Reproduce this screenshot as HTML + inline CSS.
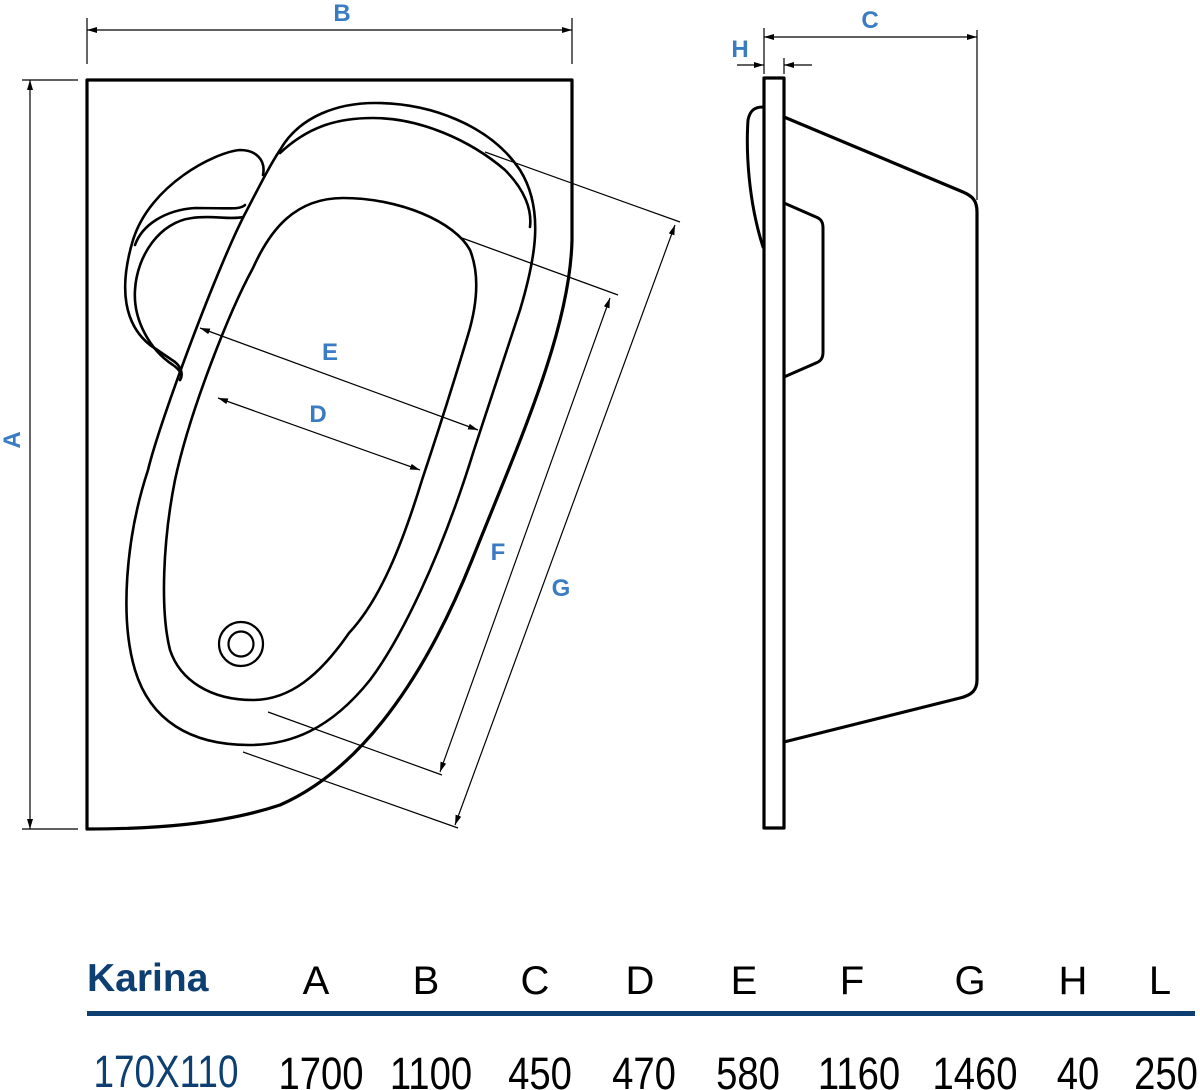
<!DOCTYPE html>
<html><head><meta charset="utf-8"><style>
html,body{margin:0;padding:0;background:#fff;width:1200px;height:1090px;overflow:hidden}
svg{position:absolute;left:0;top:0}
</style></head><body>
<svg width="1200" height="1090" viewBox="0 0 1200 1090" xmlns="http://www.w3.org/2000/svg">
<defs>
<marker id="ar" viewBox="0 0 10 6" refX="10" refY="3" markerWidth="10" markerHeight="6" orient="auto-start-reverse" markerUnits="userSpaceOnUse"><path d="M0,0 L10,3 L0,6 z" fill="#000"/></marker>
</defs>
<g fill="none" stroke="#000" stroke-linejoin="round" stroke-linecap="round">
<path stroke-width="3.2" d="M87,80 L572,80 L572,240 C570,330 520,440 472,560 C424,680 360,770 280,805 C220,825 150,829 87,829 Z"/>
<path stroke-width="2.6" d="M280,150 C300,115 340,103 375,103 C430,103 490,125 520,170 C545,210 535,260 520,310 L474,450 C440,560 400,640 370,680 C330,730 290,745 249,745 C190,745 150,720 135,670 C120,620 125,540 148,470 C160,420 220,260 247,210 C260,185 270,165 280,150 Z"/>
<path stroke-width="2.6" d="M280,153 C310,125 340,118 373,118 C420,118 470,140 505,170 C525,190 532,210 530,227"/>
<path stroke-width="2.6" d="M343,198 C400,198 455,222 470,250 C480,275 477,305 468,335 C450,395 432,450 422,480 C402,545 380,600 349,633 C320,675 290,700 253,700 C210,700 180,680 170,650 C160,610 163,540 175,480 C190,410 230,310 253,268 C270,230 295,198 343,198 Z"/>
<circle cx="241" cy="644" r="22" stroke-width="2.2"/>
<circle cx="241" cy="644" r="12.5" stroke-width="2.2"/>
<path stroke-width="2.6" d="M263,175 C266,160 256,150 240,150 C215,152 150,185 133,240 C118,290 125,325 150,345 L175,362 C182,368 183,375 180,380"/>
<path stroke-width="2.6" d="M245,205 C240,210 230,208 195,208 C165,210 142,225 135,245"/>
<path stroke-width="2.6" d="M243,217 C230,220 212,215 192,218 C160,222 137,255 135,290 C133,320 150,350 173,365 C180,370 183,375 180,380"/>
<rect x="764" y="78" width="20" height="750" stroke-width="3.2"/>
<path stroke-width="3.2" d="M784,117 L963,192 C972,196 977,200 977,212 L977,680 C977,690 972,695 960,698 L784,742"/>
<path stroke-width="3" d="M784,203 L816,217 C821,219 823,222 823,228 L823,352 C823,358 821,361 816,363 L784,377"/>
<path stroke-width="3" d="M763,107 C755,107 750,110 748,120 C746,150 748,200 763,247"/>
</g>
<g fill="none" stroke="#000" stroke-width="1.2">
<line x1="30" y1="80" x2="30" y2="829" marker-start="url(#ar)" marker-end="url(#ar)"/>
<line x1="22" y1="80" x2="78" y2="80"/><line x1="22" y1="829" x2="78" y2="829"/>
<line x1="87" y1="30" x2="572" y2="30" marker-start="url(#ar)" marker-end="url(#ar)"/>
<line x1="87" y1="18" x2="87" y2="64"/><line x1="572" y1="18" x2="572" y2="64"/>
<line x1="764" y1="37" x2="977" y2="37" marker-start="url(#ar)" marker-end="url(#ar)"/>
<line x1="764" y1="28" x2="764" y2="74"/><line x1="977" y1="30" x2="977" y2="200"/>
<line x1="784" y1="58" x2="784" y2="74"/>
<line x1="737" y1="65" x2="764" y2="65" marker-end="url(#ar)"/>
<line x1="812" y1="65" x2="784" y2="65" marker-end="url(#ar)"/>
<line x1="200" y1="328" x2="478" y2="430" marker-start="url(#ar)" marker-end="url(#ar)"/>
<line x1="218" y1="398" x2="420" y2="470" marker-start="url(#ar)" marker-end="url(#ar)"/>
<line x1="462" y1="238" x2="618" y2="295"/><line x1="268" y1="712" x2="442" y2="775"/>
<line x1="610" y1="298" x2="440" y2="772" marker-start="url(#ar)" marker-end="url(#ar)"/>
<line x1="485" y1="152" x2="680" y2="222"/><line x1="243" y1="752" x2="458" y2="828"/>
<line x1="675" y1="225" x2="455" y2="825" marker-start="url(#ar)" marker-end="url(#ar)"/>
</g>
<g fill="#3a7cc4" font-weight="bold" font-size="24" text-anchor="middle" font-family="Liberation Sans, sans-serif">
<text x="342" y="21">B</text>
<text x="870" y="28">C</text>
<text x="740" y="57">H</text>
<text x="330" y="360">E</text>
<text x="318" y="422">D</text>
<text x="498" y="560">F</text>
<text x="561" y="596">G</text>
<text transform="translate(20,440) rotate(-90)">A</text>
</g>
<g font-family="Liberation Sans, sans-serif">
<text x="87" y="991" font-size="39" font-weight="bold" fill="#0d3f73">Karina</text>
<rect x="87" y="1011" width="1108" height="5" fill="#0d3f73"/>
<g font-size="40" fill="#000" text-anchor="middle">
<text x="316" y="994">A</text><text x="426" y="994">B</text><text x="535" y="994">C</text>
<text x="640" y="994">D</text><text x="744" y="994">E</text><text x="852" y="994">F</text>
<text x="970" y="994">G</text><text x="1073" y="994">H</text><text x="1160" y="994">L</text>
</g>
<g font-size="45" text-anchor="middle">
<text x="166" y="1087" fill="#0d3f73" transform="translate(166,0) scale(0.82,1) translate(-166,0)">170X110</text>
<g fill="#000">
<text x="321" y="1089" transform="translate(321,0) scale(0.85,1) translate(-321,0)">1700</text>
<text x="431" y="1089" transform="translate(431,0) scale(0.85,1) translate(-431,0)">1100</text>
<text x="540" y="1089" transform="translate(540,0) scale(0.85,1) translate(-540,0)">450</text>
<text x="644" y="1089" transform="translate(644,0) scale(0.85,1) translate(-644,0)">470</text>
<text x="748" y="1089" transform="translate(748,0) scale(0.85,1) translate(-748,0)">580</text>
<text x="859" y="1089" transform="translate(859,0) scale(0.85,1) translate(-859,0)">1160</text>
<text x="975" y="1089" transform="translate(975,0) scale(0.85,1) translate(-975,0)">1460</text>
<text x="1078" y="1089" transform="translate(1078,0) scale(0.85,1) translate(-1078,0)">40</text>
<text x="1166" y="1089" transform="translate(1166,0) scale(0.85,1) translate(-1166,0)">250</text>
</g></g>
</g>
</svg>
</body></html>
